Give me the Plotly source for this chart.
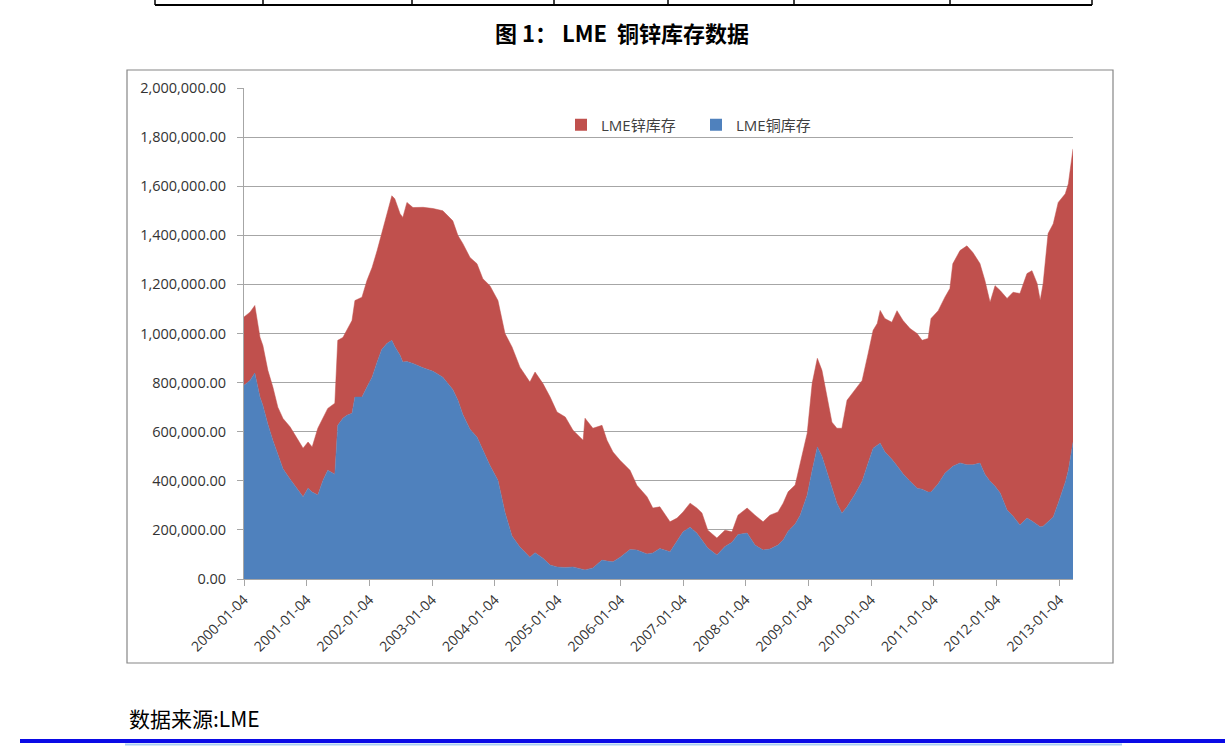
import plotly.graph_objects as go

# ---------------- data (LME stocks, tonnes) ----------------
dates = [
    "2000-01-04", "2000-02-08", "2000-03-07", "2000-04-06", "2000-04-23", "2000-05-22", "2000-06-20", "2000-07-19", "2000-08-18", "2000-09-28",
    "2000-11-08", "2000-12-13", "2001-01-11", "2001-02-04", "2001-03-09", "2001-04-08", "2001-05-06", "2001-06-16", "2001-07-03", "2001-08-02",
    "2001-08-25", "2001-09-24", "2001-10-11", "2001-11-21", "2001-12-20", "2002-01-19", "2002-02-17", "2002-03-16", "2002-04-15", "2002-05-14",
    "2002-05-31", "2002-07-01", "2002-07-17", "2002-08-10", "2002-09-14", "2002-11-12", "2003-01-09", "2003-03-07", "2003-05-04", "2003-06-03",
    "2003-07-01", "2003-08-12", "2003-09-22", "2003-10-26", "2003-12-06", "2004-01-22", "2004-03-03", "2004-04-13", "2004-05-29", "2004-07-26",
    "2004-08-25", "2004-10-10", "2004-11-21", "2004-12-31", "2005-02-17", "2005-04-03", "2005-06-01", "2005-06-12", "2005-07-28", "2005-09-19",
    "2005-10-18", "2005-11-22", "2006-01-03", "2006-03-01", "2006-04-10", "2006-06-08", "2006-07-12", "2006-08-22", "2006-10-20", "2006-11-30",
    "2007-01-04", "2007-02-14", "2007-03-25", "2007-04-24", "2007-05-28", "2007-07-20", "2007-09-05", "2007-10-16", "2007-11-20", "2008-01-12",
    "2008-02-27", "2008-04-14", "2008-05-24", "2008-07-10", "2008-08-09", "2008-09-07", "2008-10-18", "2008-11-16", "2008-12-27", "2009-01-25",
    "2009-02-24", "2009-03-23", "2009-04-21", "2009-05-20", "2009-06-18", "2009-07-17", "2009-08-16", "2009-10-02", "2009-11-12", "2009-12-17",
    "2010-01-15", "2010-02-08", "2010-02-25", "2010-03-24", "2010-05-04", "2010-06-03", "2010-07-08", "2010-08-18", "2010-09-28", "2010-10-27",
    "2010-12-01", "2010-12-18", "2011-01-29", "2011-03-09", "2011-04-07", "2011-04-24", "2011-06-05", "2011-07-15", "2011-08-19", "2011-09-29",
    "2011-10-28", "2011-11-27", "2011-12-26", "2012-01-25", "2012-03-05", "2012-04-09", "2012-05-19", "2012-06-29", "2012-07-28", "2012-08-27",
    "2012-09-14", "2012-10-01", "2012-10-30", "2012-11-29", "2012-12-28", "2013-02-07", "2013-02-25", "2013-03-07", "2013-03-24",
]

copper_stock = [
    789000, 809000, 839000, 741000, 707000, 630000, 565000, 512000, 449000, 407000,
    368000, 335000, 370000, 354000, 342000, 402000, 443000, 427000, 626000, 655000,
    667000, 675000, 741000, 741000, 782000, 822000, 883000, 935000, 959000, 972000,
    947000, 911000, 884000, 886000, 878000, 860000, 846000, 822000, 772000, 728000,
    671000, 610000, 578000, 524000, 463000, 402000, 272000, 175000, 130000, 89000,
    107000, 85000, 57000, 49000, 47000, 49000, 41000, 37000, 45000, 77000,
    73000, 70000, 89000, 120000, 118000, 102000, 106000, 124000, 111000, 152000,
    192000, 211000, 187000, 159000, 126000, 98000, 132000, 150000, 181000, 187000,
    138000, 118000, 122000, 138000, 159000, 195000, 224000, 260000, 342000, 443000,
    538000, 500000, 435000, 378000, 309000, 268000, 294000, 346000, 398000, 472000,
    533000, 545000, 553000, 518000, 488000, 461000, 429000, 398000, 370000, 366000,
    354000, 354000, 388000, 431000, 447000, 459000, 473000, 465000, 465000, 472000,
    427000, 398000, 378000, 350000, 281000, 256000, 220000, 248000, 236000, 222000,
    213000, 215000, 232000, 253000, 309000, 394000, 443000, 484000, 557000,
]

zinc_stock = [
    278000, 278000, 275000, 244000, 244000, 220000, 217000, 188000, 205000, 213000,
    205000, 198000, 188000, 184000, 272000, 252000, 252000, 289000, 346000, 329000,
    346000, 378000, 393000, 407000, 434000, 447000, 454000, 472000, 529000, 589000,
    602000, 577000, 589000, 648000, 635000, 654000, 663000, 678000, 687000, 671000,
    696000, 700000, 706000, 699000, 732000, 732000, 728000, 770000, 733000, 713000,
    736000, 711000, 684000, 631000, 613000, 557000, 524000, 618000, 569000, 549000,
    492000, 447000, 394000, 323000, 264000, 233000, 183000, 170000, 122000, 96000,
    81000, 98000, 102000, 110000, 73000, 69000, 67000, 42000, 79000, 102000,
    122000, 115000, 138000, 135000, 150000, 160000, 159000, 211000, 252000, 354000,
    361000, 350000, 306000, 261000, 305000, 346000, 434000, 423000, 411000, 447000,
    480000, 496000, 541000, 543000, 558000, 632000, 624000, 622000, 630000, 606000,
    626000, 707000, 705000, 717000, 736000, 825000, 865000, 892000, 865000, 813000,
    789000, 729000, 817000, 825000, 862000, 912000, 943000, 996000, 1020000, 982000,
    922000, 988000, 1175000, 1194000, 1225000, 1175000, 1167000, 1179000, 1195000,
]

tick_dates = ["2000-01-04", "2001-01-04", "2002-01-04", "2003-01-04", "2004-01-04",
              "2005-01-04", "2006-01-04", "2007-01-04", "2008-01-04", "2009-01-04",
              "2010-01-04", "2011-01-04", "2012-01-04", "2013-01-04"]

series_names = ["LME铜库存", "LME锌库存"]
title_text = "图 1： LME  铜锌库存数据"
source_text = "数据来源:LME"

# ---------------- styling ----------------
BLUE = "#4F81BD"
RED = "#C0504D"
GRID = "#a6a6a6"
TXT = "#333333"
FONT = "Open Sans, Noto Sans CJK SC, sans-serif"

W, H = 1225, 751
L, R, T, B = 244, 1073, 88, 579


def px(x):
    return (x - L) / (R - L)


def py(y):
    return (B - y) / (B - T)


fig = go.Figure()
fig.add_trace(go.Scatter(x=dates, y=copper_stock, name=series_names[0], stackgroup="one",
                         mode="lines", line=dict(width=0.5, color=BLUE), fillcolor=BLUE,
                         showlegend=False, hoverinfo="x+y"))
fig.add_trace(go.Scatter(x=dates, y=zinc_stock, name=series_names[1], stackgroup="one",
                         mode="lines", line=dict(width=0.5, color=RED), fillcolor=RED,
                         showlegend=False, hoverinfo="x+y"))
# legend entries (square swatches, as in the original)
fig.add_trace(go.Scatter(x=[None], y=[None], mode="markers", name=series_names[1],
                         marker=dict(symbol="square", size=9, color=RED)))
fig.add_trace(go.Scatter(x=[None], y=[None], mode="markers", name=series_names[0],
                         marker=dict(symbol="square", size=9, color=BLUE)))

shapes = []
# chart frame
shapes.append(dict(type="rect", xref="paper", yref="paper", x0=px(127), x1=px(1113),
                   y0=py(70), y1=py(663), line=dict(color="#868686", width=1.2),
                   fillcolor="rgba(0,0,0,0)", layer="above"))
# table remnant at top
shapes.append(dict(type="line", xref="paper", yref="paper", x0=px(155), x1=px(1092),
                   y0=py(5), y1=py(5), line=dict(color="black", width=2)))
for xv in [155, 263, 412, 554, 668, 794, 950, 1092]:
    shapes.append(dict(type="line", xref="paper", yref="paper", x0=px(xv), x1=px(xv),
                       y0=py(-2), y1=py(5), line=dict(color="black", width=1.5)))
# bottom rules
shapes.append(dict(type="line", xref="paper", yref="paper", x0=px(20), x1=px(1226),
                   y0=py(741), y1=py(741), line=dict(color="#0a0ae6", width=4)))
shapes.append(dict(type="line", xref="paper", yref="paper", x0=px(125), x1=px(1122),
                   y0=py(744.5), y1=py(744.5), line=dict(color="#a9cdf2", width=2)))

annotations = [
    dict(text="<b>" + title_text + "</b>", xref="paper", yref="paper", x=px(622), y=py(32),
         xanchor="center", yanchor="middle", showarrow=False,
         font=dict(family="Noto Sans CJK SC, sans-serif", size=22, color="black")),
    dict(text=source_text, xref="paper", yref="paper", x=px(127), y=py(718),
         xanchor="left", yanchor="middle", showarrow=False,
         font=dict(family="Noto Sans CJK SC, sans-serif", size=21, color="black")),
]

fig.update_layout(
    width=W, height=H, autosize=False,
    margin=dict(l=L, r=W - R, t=T, b=H - B, pad=0),
    paper_bgcolor="white", plot_bgcolor="white",
    font=dict(family=FONT, size=14, color=TXT),
    showlegend=True,
    legend=dict(orientation="h", x=px(561), xanchor="left", y=py(125), yanchor="middle",
                traceorder="normal",
                font=dict(family=FONT, size=15, color="#404040"),
                bgcolor="rgba(0,0,0,0)", entrywidth=90, entrywidthmode="pixels",
                itemsizing="constant"),
    shapes=shapes,
    annotations=annotations,
    xaxis=dict(type="date", range=[dates[0], dates[-1]], tickmode="array",
               tickvals=tick_dates, ticktext=tick_dates, tickangle=-45,
               ticks="outside", ticklen=6, tickcolor=GRID, showline=True,
               linecolor=GRID, linewidth=1, showgrid=False, zeroline=False,
               tickfont=dict(size=14, color=TXT)),
    yaxis=dict(range=[0, 2000000], dtick=200000, tick0=0, tickformat=",.2f",
               ticks="outside", ticklen=6, tickcolor=GRID, showline=True,
               linecolor=GRID, linewidth=1, showgrid=True, gridcolor=GRID,
               gridwidth=1, zeroline=False, ticklabelstandoff=8,
               tickfont=dict(size=14.5, color=TXT)),
)

fig.write_html("out.html")
